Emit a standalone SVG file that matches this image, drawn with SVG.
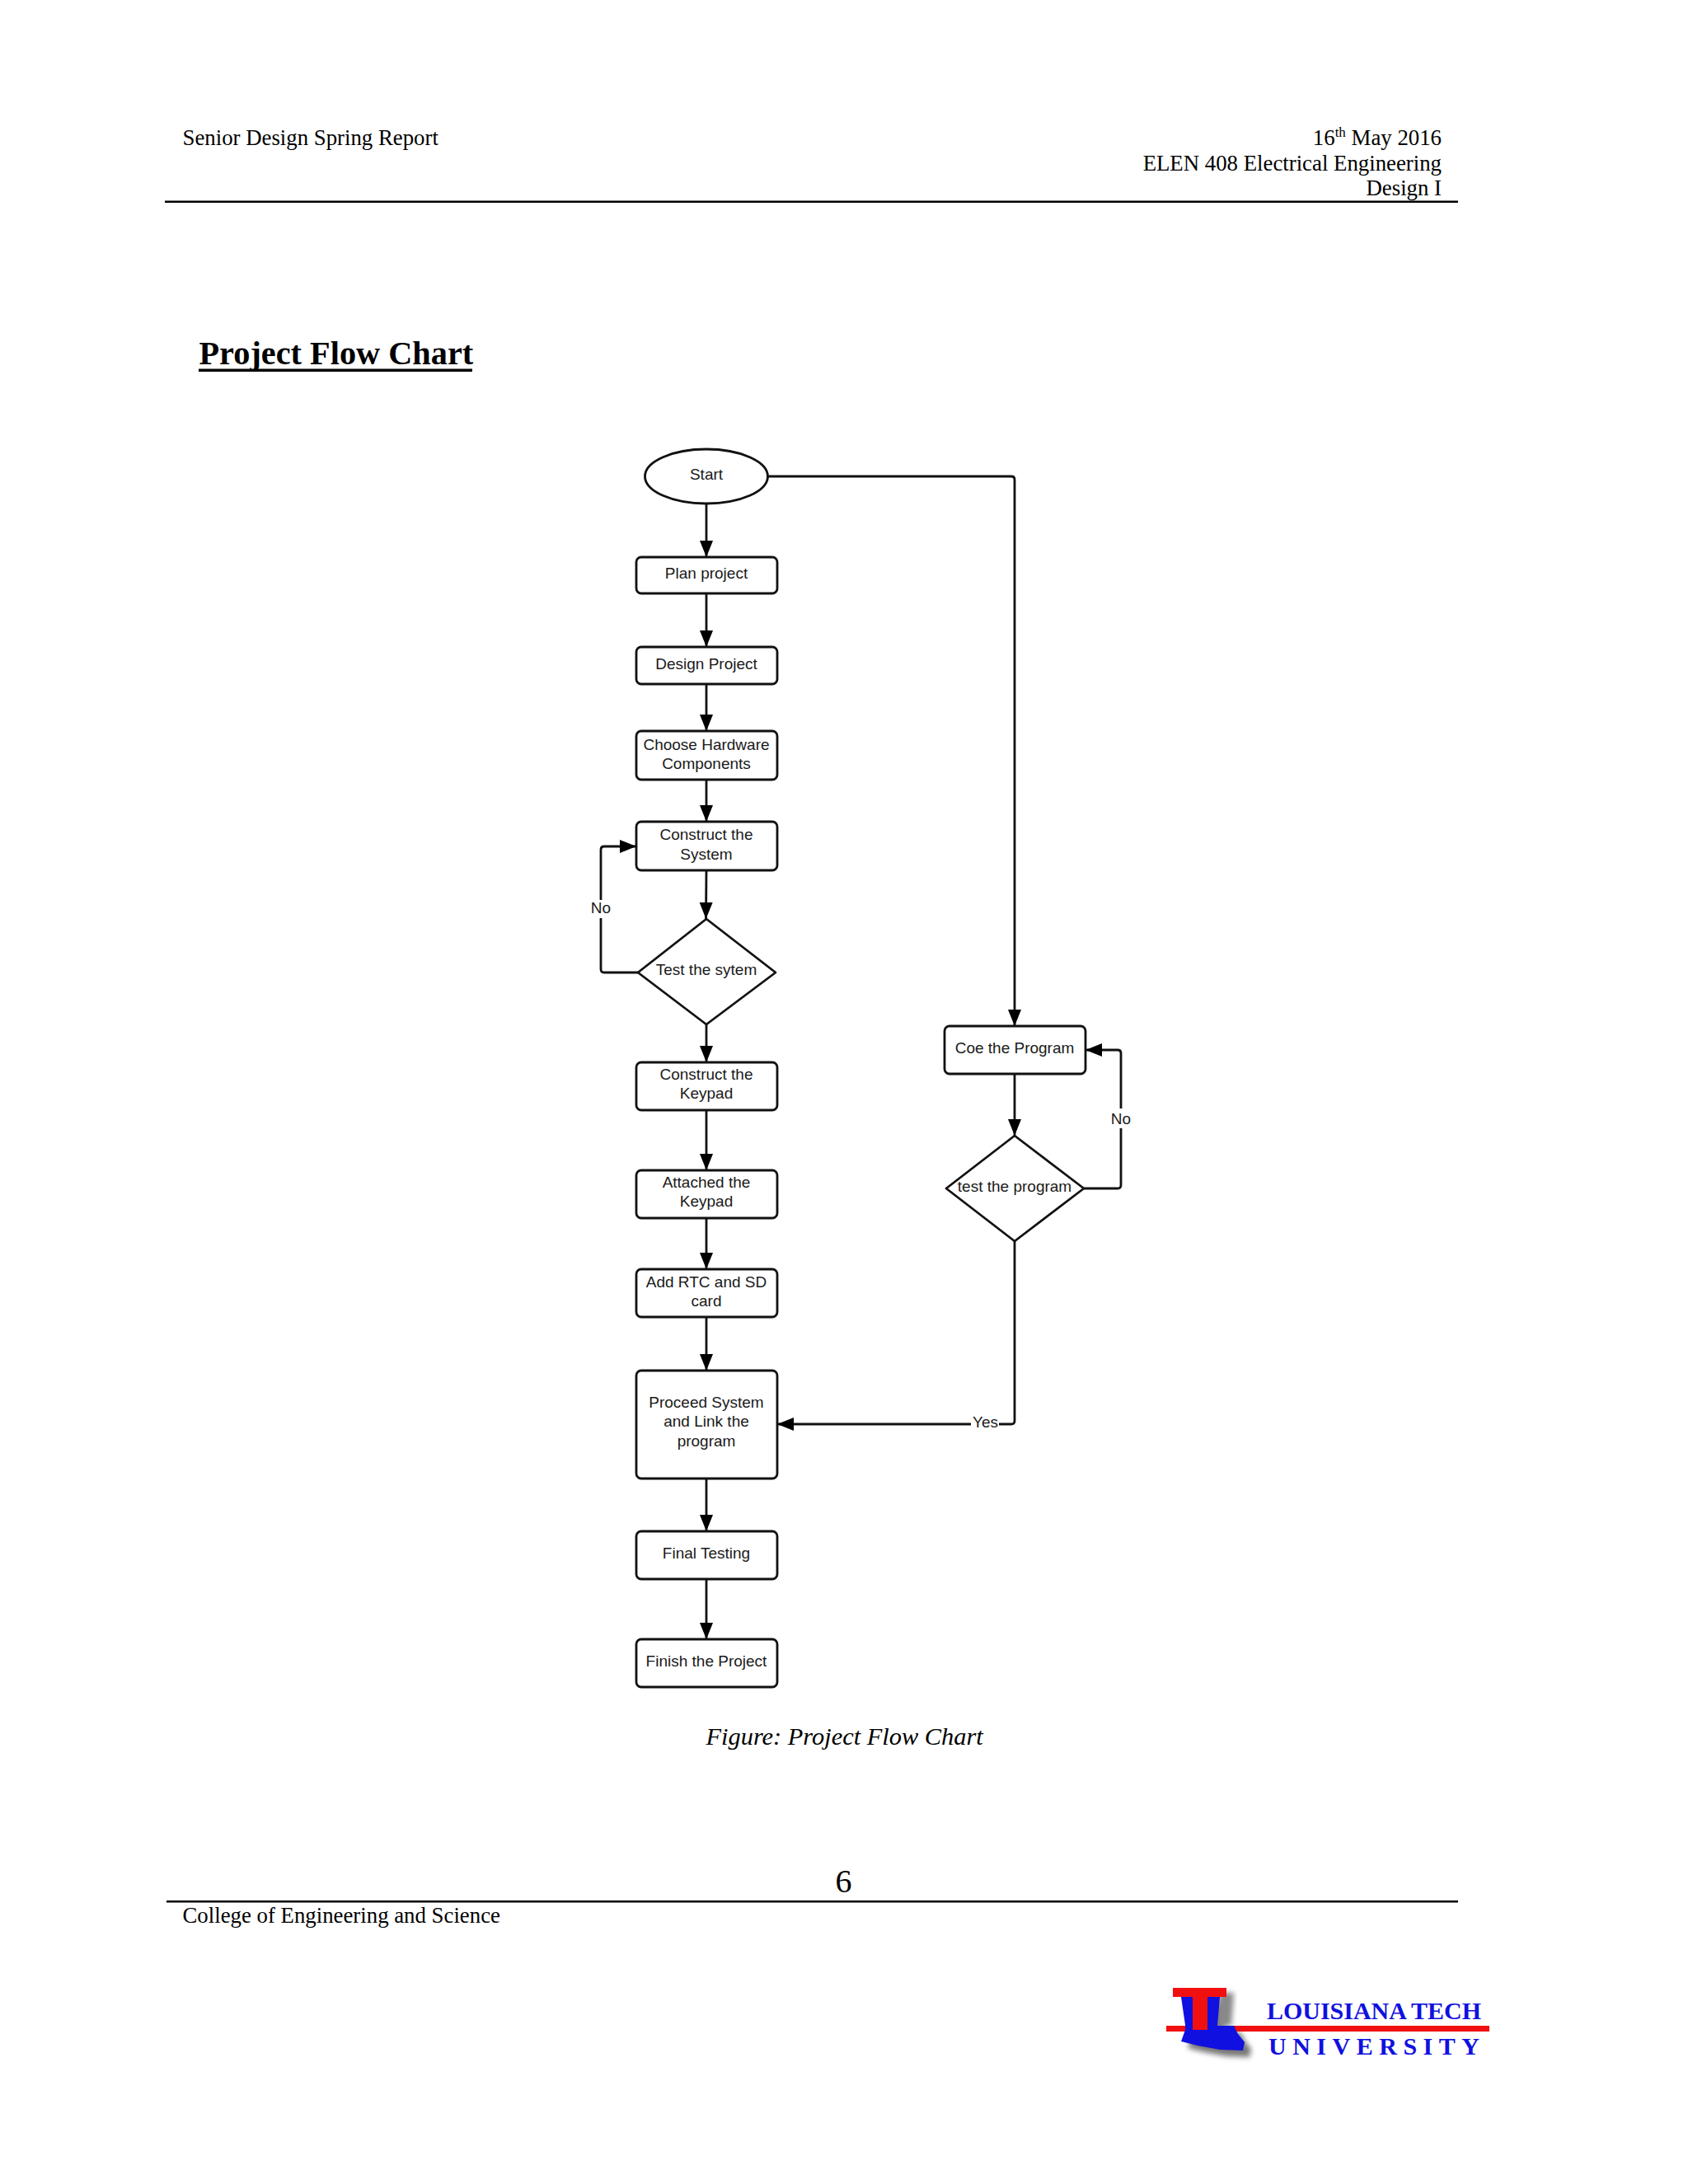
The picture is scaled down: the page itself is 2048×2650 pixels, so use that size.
<svg xmlns="http://www.w3.org/2000/svg" width="2048" height="2650" viewBox="0 0 2048 2650">
<style>
.s{font-family:"Liberation Serif","Times New Roman",serif;fill:#000}
.f{font-family:"Liberation Sans",Arial,sans-serif;font-size:19px;fill:#1a1a1a;text-anchor:middle}
.n{fill:#fff;stroke:#111;stroke-width:2.8}
.c{fill:none;stroke:#111;stroke-width:2.8;marker-end:url(#a)}
.l{fill:#fff;stroke:none}
.b{fill:#1010e0}
.r{fill:#f01010}
</style>
<defs>
<marker id="a" markerUnits="userSpaceOnUse" markerWidth="22" markerHeight="17" refX="20" refY="8" orient="auto"><path d="M0 0L20 8L0 16Z" fill="#000"/></marker>
<filter id="h" x="-20%" y="-20%" width="140%" height="140%"><feGaussianBlur stdDeviation="3"/></filter>
<path id="la" d="M1433 2423H1480L1477 2458H1497L1502 2468L1510 2478L1508 2488L1480 2487L1453 2482L1433 2477L1438 2463V2457Z"/>
</defs>
<rect width="2048" height="2650" fill="#fff"/>
<g id="page">
<text class="s" x="221.500" y="176" font-size="26.800">Senior Design Spring Report</text>
<text class="s" x="1749" y="176" font-size="26.800" text-anchor="end">16<tspan font-size="17" dy="-10">th</tspan><tspan dy="10"> May 2016</tspan></text>
<text class="s" x="1749" y="207" font-size="26.800" text-anchor="end">ELEN 408 Electrical Engineering</text>
<text class="s" x="1749" y="237" font-size="26.800" text-anchor="end">Design I</text>
<rect x="200" y="243.500" width="1569" height="2.500" fill="#000"/>
<text class="s" x="241.500" y="442" font-size="40.300" font-weight="700">Project Flow Chart</text>
<rect x="241" y="447.500" width="332" height="3.500" fill="#000"/>
<text class="s" x="856.500" y="2117" font-size="30.400" font-style="italic">Figure: Project Flow Chart</text>
<text class="s" x="1023.500" y="2296" font-size="40" text-anchor="middle">6</text>
<rect x="202" y="2306" width="1567" height="2.500" fill="#000"/>
<text class="s" x="221.500" y="2333" font-size="26.800">College of Engineering and Science</text>
</g>
<g id="connectors">
<path class="c" d="M857 611V676"/>
<path class="c" d="M857 720V785"/>
<path class="c" d="M857 830V887"/>
<path class="c" d="M857 946V997"/>
<path class="c" d="M857 1056L856.500 1115"/>
<path class="c" d="M857 1243V1289"/>
<path class="c" d="M857 1347V1420"/>
<path class="c" d="M857 1478V1540"/>
<path class="c" d="M857 1598V1663"/>
<path class="c" d="M857 1794V1858"/>
<path class="c" d="M857 1916V1989"/>
<path class="c" d="M774 1180H733Q729 1180 729 1176V1031Q729 1027 733 1027H772"/>
<path class="c" d="M932 578H1227Q1231 578 1231 582V1245"/>
<path class="c" d="M1231 1303V1378"/>
<path class="c" d="M1315 1442H1356Q1360 1442 1360 1438V1278Q1360 1274 1356 1274H1317"/>
<path class="c" d="M1231 1506V1724Q1231 1728 1227 1728H943"/>
</g>
<g id="start"><ellipse class="n" cx="857" cy="578" rx="74.500" ry="33"/><text class="f" x="857" y="582">Start</text></g>
<g id="plan"><rect class="n" x="772" y="676" width="171" height="44" rx="6"/><text class="f" x="857" y="702">Plan project</text></g>
<g id="design"><rect class="n" x="772" y="785" width="171" height="45" rx="6"/><text class="f" x="857" y="812">Design Project</text></g>
<g id="choose"><rect class="n" x="772" y="887" width="171" height="59" rx="6"/><text class="f" x="857" y="910">Choose Hardware</text><text class="f" x="857" y="933">Components</text></g>
<g id="construct-system"><rect class="n" x="772" y="997" width="171" height="59" rx="6"/><text class="f" x="857" y="1019">Construct the</text><text class="f" x="857" y="1043">System</text></g>
<g id="test-system"><path class="n" stroke-linejoin="round" d="M857 1115L941 1180L857 1243L774 1180Z"/><text class="f" x="857" y="1183">Test the sytem</text></g>
<g id="construct-keypad"><rect class="n" x="772" y="1289" width="171" height="58" rx="6"/><text class="f" x="857" y="1310">Construct the</text><text class="f" x="857" y="1333">Keypad</text></g>
<g id="attached"><rect class="n" x="772" y="1420" width="171" height="58" rx="6"/><text class="f" x="857" y="1441">Attached the</text><text class="f" x="857" y="1464">Keypad</text></g>
<g id="rtc"><rect class="n" x="772" y="1540" width="171" height="58" rx="6"/><text class="f" x="857" y="1562">Add RTC and SD</text><text class="f" x="857" y="1585">card</text></g>
<g id="proceed"><rect class="n" x="772" y="1663" width="171" height="131" rx="6"/><text class="f" x="857" y="1708">Proceed System</text><text class="f" x="857" y="1731">and Link the</text><text class="f" x="857" y="1755">program</text></g>
<g id="final"><rect class="n" x="772" y="1858" width="171" height="58" rx="6"/><text class="f" x="857" y="1891">Final Testing</text></g>
<g id="finish"><rect class="n" x="772" y="1989" width="171" height="58" rx="6"/><text class="f" x="857" y="2022">Finish the Project</text></g>
<g id="code"><rect class="n" x="1146" y="1245" width="171" height="58" rx="6"/><text class="f" x="1231" y="1278">Coe the Program</text></g>
<g id="test-program"><path class="n" stroke-linejoin="round" d="M1231 1378L1315 1442L1231 1506L1148 1442Z"/><text class="f" x="1231" y="1446">test the program</text></g>
<g id="labels">
<rect class="l" x="712" y="1092" width="34" height="22"/><text class="f" x="729" y="1108">No</text>
<rect class="l" x="1343" y="1345" width="34" height="24"/><text class="f" x="1360" y="1364">No</text>
<rect class="l" x="1178" y="1716" width="34" height="24"/><text class="f" x="1195.500" y="1732">Yes</text>
</g>
<g id="logo">
<use href="#la" x="8" y="8" fill="#777" filter="url(#h)"/>
<path d="M1478 2418H1497L1494 2458H1478Z" fill="#888" filter="url(#h)"/>
<rect class="r" x="1415" y="2458" width="392" height="7"/>
<use href="#la" class="b"/>
<path class="r" d="M1423 2412H1488V2423H1465V2463H1447V2423H1423Z"/>
<text class="s" x="1537" y="2450" font-size="30" font-weight="700" style="fill:#1010e0" textLength="260" lengthAdjust="spacingAndGlyphs">LOUISIANA TECH</text>
<text class="s" x="1539" y="2493" font-size="30" font-weight="700" style="fill:#1010e0" textLength="256">UNIVERSITY</text>
</g>
</svg>
